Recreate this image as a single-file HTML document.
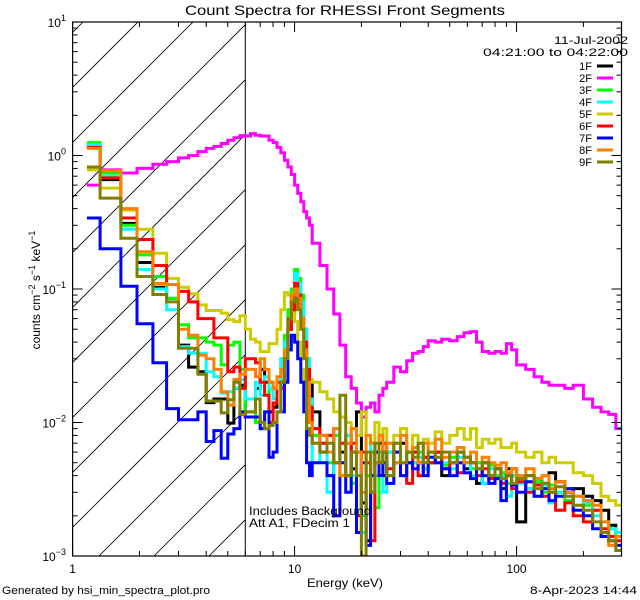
<!DOCTYPE html>
<html><head><meta charset="utf-8"><style>
html,body{margin:0;padding:0;background:#fff;}
svg{display:block;font-family:"Liberation Sans",sans-serif;}
</style></head><body>
<svg id="chart" width="640" height="600" viewBox="0 0 640 600" xmlns="http://www.w3.org/2000/svg">
<rect width="640" height="600" fill="#fff"/>
<defs><clipPath id="plotclip"><rect x="72.6" y="22" width="548.9" height="534"/></clipPath>
<clipPath id="hatchclip"><rect x="72.6" y="22" width="172.7" height="534"/></clipPath></defs>
<text x="185" y="15" font-size="14" textLength="320" lengthAdjust="spacingAndGlyphs">Count Spectra for RHESSI Front Segments</text>
<g id="hatch" clip-path="url(#hatchclip)"></g>
<line x1="245.3" y1="22" x2="245.3" y2="556" stroke="#000" stroke-width="1"/>
<g id="series" clip-path="url(#plotclip)"></g>
<rect x="72.6" y="22" width="548.9" height="534" fill="none" stroke="#000" stroke-width="1.2"/>
<g id="axes"></g>
<text x="307" y="587" font-size="12" textLength="76" lengthAdjust="spacingAndGlyphs">Energy (keV)</text>
<text transform="translate(40,290) rotate(-90)" font-size="12" text-anchor="middle">counts cm<tspan dy="-5" font-size="9">−2</tspan><tspan dy="5"> s</tspan><tspan dy="-5" font-size="9">−1</tspan><tspan dy="5"> keV</tspan><tspan dy="-5" font-size="9">−1</tspan></text>
<text x="249" y="515" font-size="12" textLength="122" lengthAdjust="spacingAndGlyphs">Includes Background</text>
<text x="249" y="527" font-size="12" textLength="101" lengthAdjust="spacingAndGlyphs">Att A1, FDecim  1</text>
<text x="2" y="594" font-size="11" textLength="208" lengthAdjust="spacingAndGlyphs">Generated by hsi_min_spectra_plot.pro</text>
<text x="530" y="594" font-size="11" textLength="107" lengthAdjust="spacingAndGlyphs">8-Apr-2023 14:44</text>
<text x="554" y="44" font-size="11" textLength="74" lengthAdjust="spacingAndGlyphs">11-Jul-2002</text>
<text x="483" y="56" font-size="11" textLength="145" lengthAdjust="spacingAndGlyphs">04:21:00 to 04:22:00</text>
<g id="legend"></g>
</svg>
<script>
const edges=[1.16,1.33,1.65,1.95,2.3,2.65,3.0,3.33,3.67,4.0,4.33,4.67,5.0,5.33,5.67,6.0,6.33,6.67,7.0,7.33,7.67,8.0,8.33,8.67,9.0,9.33,9.67,10.0,10.33,10.67,11.0,11.33,11.67,12.0,13,14,15,16,17,18,19,20,21,22,23,24,25,26,28,30,32,34,36,38,40,43,46,50,54,58,62,66,70,75,80,85,90,95,100,110,120,130,140,150,165,180,200,220,240,260,280,297];
const seriesNames=["1F","2F","3F","4F","5F","6F","7F","8F","9F"];
const seriesColors=["#000000","#ff00ff","#00ff00","#00ffff","#cccc00","#ff0000","#0000ff","#ff8000","#808000"];
const s1F=[1.15,0.66,0.31,0.158,0.103,0.085,0.038,0.026,0.024,0.0141,0.015,0.015,0.0099,0.018,0.019,
0.011,0.011,0.018,0.025,0.02,0.012,0.013,0.02,0.02,0.03,0.05,0.07,0.085,0.09,0.075,0.05,0.03,0.02,0.012,
0.006,0.004,0.009,0.006,0.008,0.0045,0.012,0.0025,0.0013,0.006,0.005,0.007,0.004,0.006,0.005,0.007,0.005,0.006,0.005,0.0045,0.005,0.006,0.004,0.005,0.006,0.0045,0.005,0.0035,0.005,0.004,0.0045,0.0032,0.0045,0.0045,0.0018,0.004,0.0038,0.0035,0.0042,0.0036,0.003,0.0032,0.0028,0.0026,0.0022,0.0017,0.0015];
const s2F=[0.6,0.78,0.74,0.8,0.86,0.9,0.96,1.0,1.07,1.13,1.17,1.23,1.3,1.36,1.41,
1.40,1.46,1.42,1.40,1.40,1.3,1.25,1.15,1.05,0.92,0.82,0.72,0.6,0.52,0.45,0.38,0.34,0.3,0.22,
0.15,0.1,0.065,0.038,0.022,0.018,0.014,0.011,0.013,0.014,0.012,0.016,0.018,0.02,0.026,0.024,0.029,0.033,0.034,0.037,0.041,0.040,0.042,0.041,0.044,0.047,0.048,0.04,0.034,0.033,0.034,0.033,0.039,0.035,0.027,0.025,0.022,0.02,0.019,0.019,0.018,0.019,0.015,0.013,0.012,0.0115,0.009];
const s3F=[1.25,0.74,0.3,0.18,0.124,0.085,0.054,0.043,0.043,0.04,0.038,0.027,0.038,0.04,0.025,
0.012,0.012,0.01,0.009,0.012,0.02,0.015,0.02,0.03,0.045,0.07,0.1,0.14,0.12,0.09,0.05,0.025,0.012,0.008,
0.007,0.005,0.008,0.004,0.007,0.0035,0.006,0.002,0.004,0.006,0.0023,0.005,0.006,0.004,0.007,0.005,0.006,0.005,0.006,0.0055,0.005,0.006,0.0048,0.0055,0.006,0.005,0.0045,0.005,0.004,0.0048,0.004,0.0042,0.0035,0.004,0.0038,0.0032,0.0036,0.003,0.0034,0.003,0.0026,0.0028,0.0024,0.0022,0.0018,0.0016,0.0014];
const s4F=[1.2,0.7,0.28,0.14,0.1,0.07,0.037,0.033,0.033,0.024,0.022,0.0166,0.017,0.018,0.021,
0.015,0.015,0.02,0.016,0.022,0.018,0.015,0.02,0.03,0.04,0.06,0.09,0.13,0.11,0.08,0.05,0.03,0.015,0.005,
0.008,0.003,0.009,0.005,0.008,0.004,0.006,0.0015,0.005,0.007,0.004,0.006,0.003,0.006,0.005,0.004,0.006,0.005,0.0055,0.0045,0.006,0.005,0.005,0.0045,0.0055,0.005,0.004,0.0045,0.0035,0.0045,0.0038,0.004,0.0028,0.004,0.0035,0.0032,0.0028,0.0034,0.0025,0.003,0.0028,0.0024,0.0025,0.002,0.0018,0.0016,0.0015];
const s5F=[0.78,0.57,0.39,0.28,0.185,0.12,0.103,0.092,0.076,0.069,0.069,0.066,0.059,0.057,0.063,
0.05,0.042,0.04,0.034,0.034,0.039,0.039,0.05,0.07,0.094,0.09,0.075,0.057,0.04,0.025,0.021,0.021,0.021,0.02,
0.017,0.015,0.012,0.011,0.01,0.009,0.008,0.012,0.008,0.007,0.01,0.008,0.009,0.007,0.008,0.009,0.006,0.008,0.007,0.0075,0.007,0.0085,0.007,0.008,0.009,0.0075,0.009,0.0065,0.0075,0.007,0.0075,0.0065,0.0065,0.007,0.006,0.0055,0.006,0.005,0.0055,0.005,0.005,0.0042,0.004,0.0035,0.0028,0.0026,0.0024];
const s6F=[1.15,0.68,0.34,0.235,0.15,0.108,0.096,0.08,0.06,0.06,0.043,0.043,0.024,0.026,0.018,
0.03,0.03,0.028,0.02,0.016,0.01,0.014,0.02,0.018,0.03,0.05,0.07,0.11,0.09,0.06,0.04,0.025,0.013,0.009,
0.007,0.008,0.005,0.007,0.004,0.007,0.002,0.006,0.005,0.0013,0.006,0.005,0.007,0.0045,0.006,0.005,0.0035,0.006,0.004,0.0055,0.005,0.006,0.0045,0.005,0.0042,0.0055,0.005,0.004,0.0045,0.0038,0.0045,0.0035,0.004,0.0032,0.0036,0.003,0.0034,0.0028,0.003,0.0022,0.0025,0.002,0.0018,0.0022,0.0016,0.0014,0.0013];
const s7F=[0.34,0.2,0.105,0.055,0.028,0.0127,0.0105,0.0105,0.012,0.0072,0.0087,0.0054,0.0082,0.009,0.012,
0.011,0.011,0.011,0.009,0.012,0.0055,0.006,0.012,0.012,0.02,0.035,0.045,0.04,0.03,0.02,0.012,0.005,0.004,0.005,
0.005,0.004,0.002,0.005,0.003,0.006,0.0015,0.005,0.0012,0.004,0.006,0.004,0.005,0.0035,0.006,0.004,0.005,0.0045,0.005,0.004,0.0055,0.005,0.0045,0.004,0.005,0.0042,0.0038,0.0045,0.004,0.0035,0.0038,0.0026,0.004,0.0034,0.003,0.0036,0.0028,0.0032,0.0026,0.0028,0.0032,0.0022,0.002,0.0016,0.0014,0.0013,0.0012];
const s8F=[1.13,0.77,0.4,0.19,0.11,0.108,0.05,0.045,0.032,0.03,0.025,0.017,0.0135,0.021,0.023,
0.025,0.025,0.022,0.03,0.025,0.02,0.018,0.022,0.025,0.035,0.06,0.09,0.1,0.085,0.06,0.035,0.02,0.01,0.007,
0.008,0.006,0.009,0.004,0.007,0.009,0.006,0.003,0.008,0.007,0.005,0.008,0.006,0.007,0.005,0.008,0.006,0.0065,0.005,0.007,0.006,0.0075,0.0055,0.006,0.0065,0.005,0.006,0.0045,0.0055,0.005,0.0048,0.005,0.0042,0.0045,0.004,0.0045,0.0038,0.004,0.0032,0.0036,0.003,0.0028,0.0026,0.0024,0.0018,0.0012,0.0014];
const s9F=[0.82,0.48,0.24,0.124,0.091,0.08,0.036,0.036,0.023,0.0145,0.0145,0.0118,0.0148,0.02,0.0115,
0.012,0.012,0.015,0.01,0.009,0.0095,0.01,0.012,0.02,0.03,0.06,0.08,0.085,0.07,0.05,0.03,0.009,0.008,0.007,
0.006,0.007,0.005,0.016,0.004,0.006,0.004,0.001,0.006,0.003,0.007,0.005,0.006,0.004,0.007,0.005,0.006,0.0055,0.007,0.005,0.006,0.0055,0.006,0.005,0.006,0.0055,0.005,0.0045,0.005,0.004,0.0045,0.0038,0.004,0.0035,0.0038,0.004,0.0032,0.0035,0.003,0.0033,0.0028,0.0024,0.0022,0.0018,0.0015,0.0013,0.0011];
const seriesValues=[s1F,s2F,s3F,s4F,s5F,s6F,s7F,s8F,s9F];
const xTickValues=[1,10,100];
const xTickLabels=["1","10","100"];
const yTickExponents=[-3,-2,-1,0,1];

const NS="http://www.w3.org/2000/svg";
const X0=72.6,X1=621.5,Y0=556,Y1=22;
const xMin=1,xMax=297,yMin=0.001,yMax=10;
function xs(e){return X0+(Math.log10(e)-Math.log10(xMin))/(Math.log10(xMax)-Math.log10(xMin))*(X1-X0);}
function ys(v){v=Math.max(v,1e-4);return Y0-(Math.log10(v)-Math.log10(yMin))/(Math.log10(yMax)-Math.log10(yMin))*(Y0-Y1);}
function mk(t,a,p){const e=document.createElementNS(NS,t);for(const k in a)e.setAttribute(k,a[k]);p.appendChild(e);return e;}

const hg=document.getElementById('hatch');
for(let c=105;c<=820;c+=55){
  const l=mk('line',{x1:c-600,y1:600,x2:c,y2:0,stroke:'#000','stroke-width':0.8},hg);
  
  
}

const sg=document.getElementById('series');
seriesValues.forEach((vals,si)=>{
  let d='';
  const n=Math.min(vals.length,edges.length-1);
  for(let i=0;i<n;i++){
    const y=ys(vals[i]).toFixed(1);
    const xa=xs(edges[i]).toFixed(1),xb=xs(edges[i+1]).toFixed(1);
    d+=(i===0?'M':'L')+xa+','+y+'L'+xb+','+y;
  }
  const p=mk('path',{d:d,fill:'none',stroke:seriesColors[si],'stroke-width':3,'stroke-linejoin':'miter'},sg);
  
  
});

const ag=document.getElementById('axes');
for(let d=0;d<3;d++){
  for(let m=1;m<=9;m++){
    const e=Math.pow(10,d)*m; if(e>xMax)break;
    const x=xs(e),L=(m===1)?10:5;
    mk('line',{x1:x,y1:Y0,x2:x,y2:Y0-L,stroke:'#000','stroke-width':1},ag);
    mk('line',{x1:x,y1:Y1,x2:x,y2:Y1+L,stroke:'#000','stroke-width':1},ag);
  }
}
xTickValues.forEach((v,i)=>{
  const t=mk('text',{x:xs(v),y:573,'font-size':12,'text-anchor':'middle'},ag);
  t.textContent=xTickLabels[i];
  
  
});
yTickExponents.forEach(ex=>{
  for(let m=1;m<=9;m++){
    if(ex===1&&m>1)break;
    const y=ys(m*Math.pow(10,ex)),L=(m===1)?10:5;
    mk('line',{x1:X0,y1:y,x2:X0+L,y2:y,stroke:'#000','stroke-width':1},ag);
    mk('line',{x1:X1,y1:y,x2:X1-L,y2:y,stroke:'#000','stroke-width':1},ag);
  }
  const y=ys(Math.pow(10,ex));
  const t=mk('text',{x:66,y:y+5,'font-size':12,'text-anchor':'end'},ag);
  
  
  t.innerHTML='10<tspan dy="-6" font-size="9">'+(ex<0?'−'+(-ex):ex)+'</tspan>';
});

const lg=document.getElementById('legend');
seriesNames.forEach((nm,i)=>{
  const y=66+i*12;
  const g=mk('g',{},lg);
  
  
  const t=mk('text',{x:592,y:y+4,'font-size':11,'text-anchor':'end'},g);
  t.textContent=nm;
  mk('line',{x1:597,y1:y,x2:613,y2:y,stroke:seriesColors[i],'stroke-width':3},g);
});
</script>
</body></html>
